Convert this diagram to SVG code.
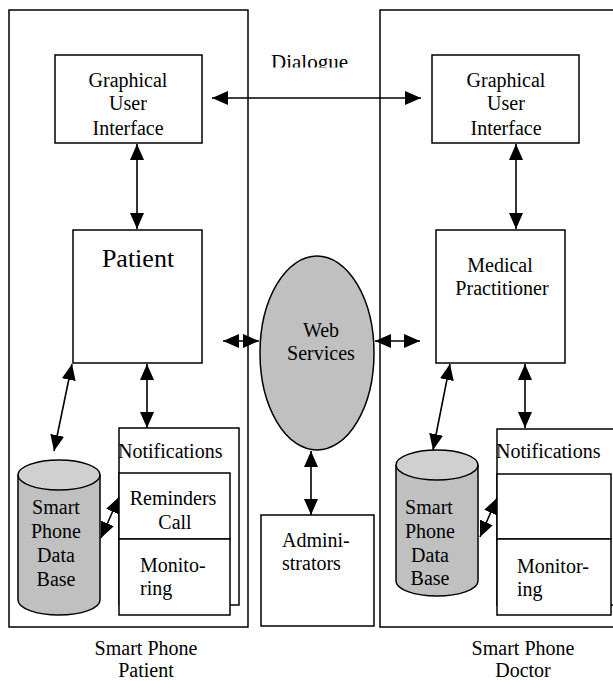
<svg xmlns="http://www.w3.org/2000/svg" width="613" height="681" viewBox="0 0 613 681">
<style>
text{font-family:'Liberation Serif','DejaVu Serif',serif;font-size:20px;fill:#000}
.c{text-anchor:middle}
.box{fill:#fff;stroke:#000;stroke-width:1.5}
.frame{fill:none;stroke:#000;stroke-width:1.5}
.gray{fill:#c0c0c0;stroke:#000;stroke-width:1.5}
.conn line{stroke:#000;stroke-width:1.6;marker-start:url(#ah);marker-end:url(#ah)}
</style>
<defs>
<marker id="ah" markerUnits="userSpaceOnUse" markerWidth="16" markerHeight="16" refX="16" refY="8" orient="auto-start-reverse" viewBox="0 0 16 16">
<path d="M0,1 L16,8 L0,15 z" fill="#000"/>
</marker>
<clipPath id="dlg"><rect x="250" y="40" width="130" height="27.5"/></clipPath>
</defs>
<rect width="613" height="681" fill="#fff"/>

<g id="frame-patient">
<rect class="frame" x="9" y="10" width="239" height="617"/>
<text class="c" x="146" y="655" font-family="Liberation Serif">Smart Phone</text>
<text class="c" x="146" y="677">Patient</text>
</g>
<g id="frame-doctor">
<rect class="frame" x="380" y="10" width="240" height="617"/>
<text class="c" x="523" y="655">Smart Phone</text>
<text class="c" x="523" y="677">Doctor</text>
</g>

<g id="dialogue-label">
<text x="271" y="69" clip-path="url(#dlg)" style="font-size:21px">Dialogue</text>
</g>

<g id="gui-patient">
<rect class="box" x="55" y="55" width="147" height="88"/>
<text class="c" x="128" y="87">Graphical</text>
<text class="c" x="128" y="110">User</text>
<text class="c" x="128" y="135">Interface</text>
</g>
<g id="gui-doctor">
<rect class="box" x="432" y="55" width="147" height="88"/>
<text class="c" x="506" y="87">Graphical</text>
<text class="c" x="506" y="110">User</text>
<text class="c" x="506" y="135">Interface</text>
</g>

<g id="patient">
<rect class="box" x="73" y="230" width="129" height="133"/>
<text class="c" x="138" y="267" style="font-size:26px">Patient</text>
</g>
<g id="medical-practitioner">
<rect class="box" x="436" y="230" width="129" height="133"/>
<text class="c" x="500" y="272">Medical</text>
<text class="c" x="502" y="295">Practitioner</text>
</g>

<g id="web-services">
<ellipse class="gray" cx="317" cy="353" rx="57" ry="97"/>
<text class="c" x="321" y="337">Web</text>
<text class="c" x="321" y="360">Services</text>
</g>

<g id="administrators">
<rect class="box" x="261" y="515" width="113" height="111"/>
<text x="282" y="547">Admini-</text>
<text x="282" y="570">strators</text>
</g>

<g id="notifications-patient">
<rect class="box" x="119" y="428" width="120" height="177"/>
<text x="118" y="458">Notifications</text>
<rect class="box" x="119" y="473" width="111" height="66"/>
<text class="c" x="173" y="505">Reminders</text>
<text class="c" x="175" y="529">Call</text>
<rect class="box" x="119" y="539" width="111" height="76"/>
<text x="140" y="572">Monito-</text>
<text x="140" y="595">ring</text>
</g>

<g id="notifications-doctor">
<rect class="box" x="497" y="429" width="125" height="176"/>
<text x="496" y="458">Notifications</text>
<rect class="box" x="497" y="474" width="114" height="65"/>
<rect class="box" x="497" y="539" width="114" height="76"/>
<text x="517" y="573">Monitor-</text>
<text x="517" y="596">ing</text>
</g>

<g id="db-patient">
<path class="gray" d="M18,475 L18,600 A41,15 0 0 0 100,600 L100,475"/>
<ellipse class="gray" cx="59" cy="475" rx="41" ry="15" style="fill:#d0d0d0"/>
<text class="c" x="56" y="514">Smart</text>
<text class="c" x="56" y="538">Phone</text>
<text class="c" x="56" y="562">Data</text>
<text class="c" x="56" y="586">Base</text>
</g>

<g id="db-doctor">
<path class="gray" d="M396,465 L396,581 A41,15 0 0 0 478,581 L478,465"/>
<ellipse class="gray" cx="437" cy="465" rx="41" ry="15" style="fill:#d0d0d0"/>
<text class="c" x="429" y="514">Smart</text>
<text class="c" x="430" y="538">Phone</text>
<text class="c" x="430" y="562">Data</text>
<text class="c" x="430" y="585">Base</text>
</g>

<g id="connectors" class="conn">
<line x1="212" y1="98" x2="421" y2="98"/>
<line x1="137" y1="144" x2="137" y2="229"/>
<line x1="516" y1="144" x2="516" y2="229"/>
<line x1="223" y1="341" x2="259" y2="341"/>
<line x1="375" y1="341" x2="420" y2="341"/>
<line x1="147" y1="364" x2="147" y2="428"/>
<line x1="525" y1="364" x2="525" y2="428"/>
<line x1="72" y1="364" x2="54" y2="451"/>
<line x1="450" y1="364" x2="433" y2="450"/>
<line x1="119" y1="497" x2="101" y2="538"/>
<line x1="497" y1="498" x2="480" y2="537"/>
<line x1="311" y1="451" x2="311" y2="515"/>
</g>
</svg>
